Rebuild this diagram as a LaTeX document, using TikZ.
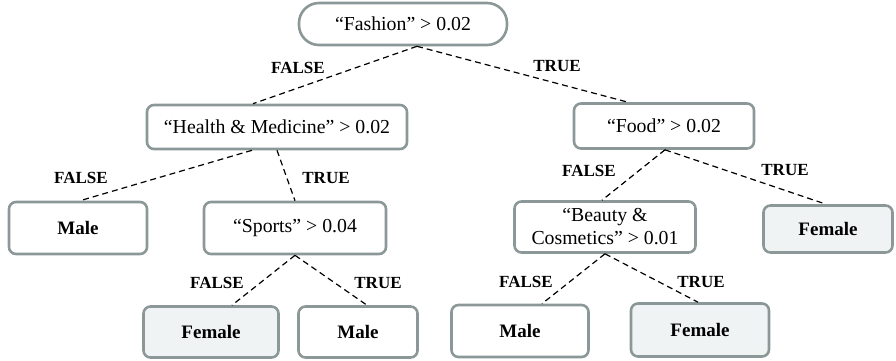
\documentclass[tikz,border=0pt]{standalone}
\usepackage{fontspec}
\setmainfont{LiberationSerif}[Extension=.ttf, UprightFont=*-Regular, BoldFont=*-Bold, ItalicFont=*-Italic, BoldItalicFont=*-BoldItalic]
\definecolor{boxborder}{RGB}{140,152,152}
\definecolor{leaffill}{RGB}{240,243,244}
\tikzset{
  box/.style={draw=boxborder, line width=2.6pt, rounded corners=7pt, fill=white,
    inner sep=0pt, align=center, font=\fontsize{19.8}{23}\selectfont},
  pill/.style={box, rounded corners=20pt},
  leaf/.style={box, font=\fontsize{19}{21}\selectfont\bfseries},
  fleaf/.style={leaf, fill=leaffill},
  edge/.style={dashed, line width=1.2pt, dash pattern=on 6pt off 4pt},
  lbl/.style={font=\fontsize{17}{19}\selectfont\bfseries, inner sep=0pt}
}
\begin{document}
\begin{tikzpicture}[x=1pt,y=-1pt]
\useasboundingbox (0,0) rectangle (896,360);
% nodes
\node[pill, minimum width=208pt, minimum height=42pt] (root) at (403,24) {“Fashion” > 0.02};
\node[box, minimum width=260pt, minimum height=44pt] (health) at (277,127) {“Health \& Medicine” > 0.02};
\node[box, minimum width=180pt, minimum height=45pt] (food) at (664,126) {“Food” > 0.02};
\node[leaf, minimum width=138pt, minimum height=52pt] (male1) at (78,228) {Male};
\node[box, minimum width=182pt, minimum height=52pt] (sports) at (295,228) {“Sports” > 0.04};
\node[box, minimum width=181pt, minimum height=51pt] (beauty) at (605,227) {“Beauty \&\\Cosmetics” > 0.01};
\node[fleaf, minimum width=129pt, minimum height=47pt] (female1) at (828,229) {Female};
\node[fleaf, minimum width=135pt, minimum height=51pt] (female2) at (211,332) {Female};
\node[leaf, minimum width=119pt, minimum height=51pt] (male2) at (358,332) {Male};
\node[leaf, minimum width=137pt, minimum height=52pt] (male3) at (520,331) {Male};
\node[fleaf, minimum width=138pt, minimum height=53pt] (female3) at (700,330) {Female};
% edges
\draw[edge] ([xshift=14pt]root.south) -- ([xshift=-24pt]health.north);
\draw[edge] ([xshift=14pt]root.south) -- ([xshift=-36pt]food.north);
\draw[edge] ([xshift=-25pt]health.south) -- ([xshift=2pt]male1.north);
\draw[edge] ([xshift=0pt]health.south) -- ([xshift=0pt]sports.north);
\draw[edge] (sports.south) -- ([xshift=21pt]female2.north);
\draw[edge] (sports.south) -- ([xshift=9pt]male2.north);
\draw[edge] ([xshift=1pt]food.south) -- ([xshift=-3pt]beauty.north);
\draw[edge] ([xshift=1pt]food.south) -- ([xshift=-2pt]female1.north);
\draw[edge] (beauty.south) -- ([xshift=22pt]male3.north);
\draw[edge] (beauty.south) -- ([xshift=-2pt]female3.north);
% labels
\node[lbl] (l1) at (298,68) {FALSE};
\node[lbl] (l2) at (557,66) {TRUE};
\node[lbl] (l3) at (81,178) {FALSE};
\node[lbl] (l4) at (326,178) {TRUE};
\node[lbl] (l5) at (589,171) {FALSE};
\node[lbl] (l6) at (785,170) {TRUE};
\node[lbl] (l7) at (217,283) {FALSE};
\node[lbl] (l8) at (378,283) {TRUE};
\node[lbl] (l9) at (526,282) {FALSE};
\node[lbl] (l10) at (701,282) {TRUE};
\end{tikzpicture}
\end{document}
